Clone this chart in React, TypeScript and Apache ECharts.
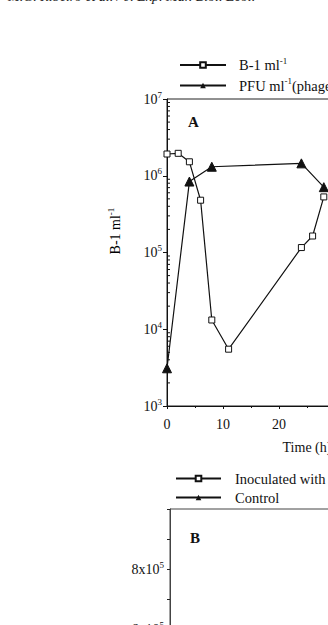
import React, { useEffect, useRef } from 'react';
import * as echarts from 'echarts';

// Panel A data
const timeB1 = [0, 2, 4, 6, 8, 11, 24, 26, 28];
const b1Values = [1.92e6, 1.96e6, 1.52e6, 4.8e5, 1.32e4, 5.5e3, 1.16e5, 1.64e5, 5.3e5];
const timePFU = [0, 4, 8, 24, 28];
const pfuValues = [3.1e3, 8.4e5, 1.31e6, 1.45e6, 7.1e5];

// Panel B: no data points visible in the cropped figure
const timeInoculated: number[] = [];
const inoculatedValues: number[] = [];
const timeControl: number[] = [];
const controlValues: number[] = [];

// Axis decorations
const minorMantissas = [2, 3, 4, 5, 6, 7, 8, 9];
const decadeStarts = [1e3, 1e4, 1e5, 1e6];
const panelBLabeled = [2e5, 4e5, 6e5, 8e5];

const SERIF = '"Liberation Serif", "DejaVu Serif", serif';

const supRich = {
  t: { fontFamily: SERIF, fontSize: 14, color: '#111', lineHeight: 18 },
  s: { fontFamily: SERIF, fontSize: 9, color: '#111', lineHeight: 9, verticalAlign: 'top' as const },
};

const legendRich = {
  t: { fontFamily: SERIF, fontSize: 14.5, color: '#111', lineHeight: 18 },
  s: { fontFamily: SERIF, fontSize: 9, color: '#111', lineHeight: 9, verticalAlign: 'top' as const },
};

export default function App() {
  const ref = useRef<HTMLDivElement>(null);

  useEffect(() => {
    if (!ref.current) return;
    const chart = echarts.init(ref.current, undefined, { renderer: 'svg' });

    const minorTickData: number[][] = [];
    decadeStarts.forEach((d) => minorMantissas.forEach((m) => minorTickData.push([0, m * d])));

    const option: any = {
      animation: false,
      backgroundColor: '#fff',
      textStyle: { fontFamily: SERIF },
      grid: [
        { left: 167, top: 99, width: 280, height: 307, show: true, borderColor: '#222', borderWidth: 1, outerBoundsMode: 'none', containLabel: false },
        { left: 170, top: 509, width: 280, height: 300, show: true, borderColor: '#444', borderWidth: 1, outerBoundsMode: 'none', containLabel: false },
      ],
      xAxis: [
        {
          gridIndex: 0, type: 'value', min: 0, max: 50, interval: 10,
          axisLine: { lineStyle: { color: '#111', width: 1 } },
          axisTick: { inside: false, length: 3, lineStyle: { color: '#111' } },
          minorTick: { show: true, splitNumber: 2, length: 2, lineStyle: { color: '#111' } },
          splitLine: { show: false },
          axisLabel: { color: '#111', fontFamily: SERIF, fontSize: 14, margin: 11 },
          name: 'Time (h)', nameLocation: 'middle', nameGap: 34,
          nameTextStyle: { color: '#111', fontFamily: SERIF, fontSize: 14 },
        },
        {
          gridIndex: 1, type: 'value', min: 0, max: 50, interval: 10,
          axisLine: { lineStyle: { color: '#444' } },
          axisTick: { length: 3 },
          splitLine: { show: false },
          axisLabel: { color: '#111', fontFamily: SERIF, fontSize: 14 },
        },
      ],
      yAxis: [
        {
          gridIndex: 0, type: 'log', logBase: 10, min: 1e3, max: 1e7,
          axisLine: { show: true, lineStyle: { color: '#111', width: 1 } },
          axisTick: { show: true, inside: false, length: 4, lineStyle: { color: '#111' } },
          splitLine: { show: false },
          axisLabel: {
            margin: 5,
            formatter: (v: number) => `{t|10}{s|${Math.round(Math.log10(v))}}`,
            rich: supRich,
          },
        },
        {
          gridIndex: 1, type: 'value', min: 0, max: 1e6, interval: 1e5,
          axisLine: { show: true, lineStyle: { color: '#444', width: 1 } },
          axisTick: { show: true, inside: false, length: 3, lineStyle: { color: '#222' } },
          splitLine: { show: false },
          axisLabel: {
            margin: 6,
            formatter: (v: number) =>
              panelBLabeled.includes(v) ? `{t|${Math.round(v / 1e5)}x10}{s|5}` : '',
            rich: supRich,
          },
        },
      ],
      legend: [
        {
          data: ['B-1 ml-1', 'PFU ml-1(phage)'],
          orient: 'vertical', left: 179, top: 56, padding: 0,
          itemWidth: 46, itemHeight: 7, itemGap: 4,
          formatter: (n: string) =>
            n === 'B-1 ml-1' ? '{t|B-1 ml}{s|-1}' : '{t|PFU ml}{s|-1}{t|(phage)}',
          textStyle: { padding: [0, 0, 0, 8], rich: legendRich },
          selectedMode: false,
        },
        {
          data: ['Inoculated with phage', 'Control'],
          orient: 'vertical', left: 175, top: 471, padding: 0,
          itemWidth: 45, itemHeight: 7, itemGap: 4,
          formatter: (n: string) => `{t|${n}}`,
          textStyle: { padding: [0, 0, 0, 9], rich: legendRich },
          selectedMode: false,
        },
      ],
      graphic: [
        {
          type: 'text', left: 8, top: -11,
          style: { text: 'M.G. Ribeiro et al. / J. Exp. Mar. Biol. Ecol.', font: `italic 14px ${SERIF}`, fill: '#222' },
        },
        {
          type: 'text', x: 188, y: 122,
          style: { text: 'A', font: `bold 15px ${SERIF}`, fill: '#111', verticalAlign: 'middle' },
        },
        {
          type: 'text', x: 190, y: 538,
          style: { text: 'B', font: `bold 15px ${SERIF}`, fill: '#111', verticalAlign: 'middle' },
        },
        {
          type: 'text', x: 115, y: 231, rotation: Math.PI / 2,
          style: {
            text: '{t|B-1 ml}{s|-1}', rich: supRich,
            align: 'center', verticalAlign: 'middle',
          },
        },
      ],
      series: [
        {
          name: 'B-1 ml-1', type: 'line', xAxisIndex: 0, yAxisIndex: 0,
          data: timeB1.map((t, i) => [t, b1Values[i]]),
          symbol: 'rect', symbolSize: 6, showAllSymbol: true,
          itemStyle: { color: '#fff', borderColor: '#111', borderWidth: 1 },
          lineStyle: { color: '#111', width: 1.2 },
          z: 3,
        },
        {
          name: 'PFU ml-1(phage)', type: 'line', xAxisIndex: 0, yAxisIndex: 0,
          data: timePFU.map((t, i) => [t, pfuValues[i]]),
          symbol: 'triangle', symbolSize: 9,
          itemStyle: { color: '#111', borderColor: '#111' },
          lineStyle: { color: '#111', width: 1.2 },
          z: 2,
        },
        {
          type: 'custom', xAxisIndex: 0, yAxisIndex: 0, silent: true, clip: false,
          data: minorTickData,
          renderItem: (params: any, api: any) => {
            const p = api.coord([api.value(0), api.value(1)]);
            return {
              type: 'line',
              shape: { x1: p[0], y1: p[1], x2: p[0] + 3, y2: p[1] },
              style: { stroke: '#111', lineWidth: 1 },
            };
          },
        },
        {
          name: 'Inoculated with phage', type: 'line', xAxisIndex: 1, yAxisIndex: 1,
          data: timeInoculated.map((t, i) => [t, inoculatedValues[i]]),
          symbol: 'rect', symbolSize: 6,
          itemStyle: { color: '#fff', borderColor: '#111', borderWidth: 1 },
          lineStyle: { color: '#111', width: 1.2 },
        },
        {
          name: 'Control', type: 'line', xAxisIndex: 1, yAxisIndex: 1,
          data: timeControl.map((t, i) => [t, controlValues[i]]),
          symbol: 'triangle', symbolSize: 9,
          itemStyle: { color: '#111', borderColor: '#111' },
          lineStyle: { color: '#111', width: 1.2 },
        },
      ],
    };

    chart.setOption(option);
    return () => chart.dispose();
  }, []);

  return (
    <div
      ref={ref}
      style={{ position: 'fixed', left: 0, top: 0, width: 328, height: 625, background: '#fff' }}
    />
  );
}
